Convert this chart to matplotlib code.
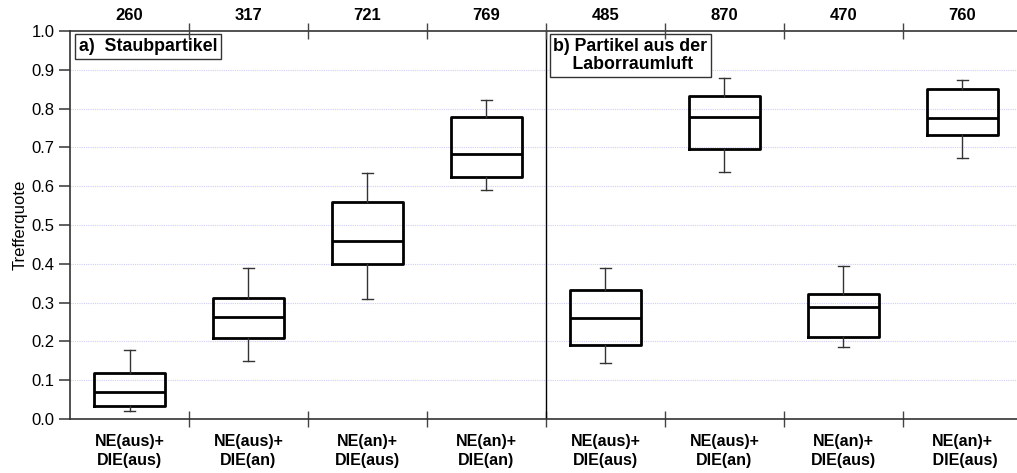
import matplotlib
matplotlib.use("Agg")
import matplotlib.pyplot as plt
import numpy as np

plt.rcParams['font.family'] = ['Liberation Sans', 'DejaVu Sans']

# Conditions (two panels with four conditions each)
conditions = ["NE(aus)+\nDIE(aus)", "NE(aus)+\nDIE(an)", "NE(an)+\nDIE(aus)", "NE(an)+\nDIE(an)",
              "NE(aus)+\nDIE(aus)", "NE(aus)+\nDIE(an)", "NE(an)+\nDIE(aus)", "NE(an)+\n DIE(aus)"]
counts = ["260", "317", "721", "769", "485", "870", "470", "760"]

# Box statistics of the hit rate
whisker_low = [0.020, 0.150, 0.308, 0.590, 0.144, 0.637, 0.186, 0.672]
quartile_1 = [0.034, 0.208, 0.400, 0.624, 0.191, 0.695, 0.212, 0.732]
medians = [0.069, 0.264, 0.459, 0.683, 0.261, 0.779, 0.288, 0.776]
quartile_3 = [0.118, 0.311, 0.559, 0.778, 0.333, 0.832, 0.322, 0.850]
whisker_high = [0.179, 0.389, 0.634, 0.822, 0.388, 0.880, 0.395, 0.875]

panel_titles = ["a)  Staubpartikel", "b) Partikel aus der\n    Laborraumluft"]

fig = plt.figure(figsize=(10.17, 4.73), dpi=100)
ax = fig.add_axes([70 / 1017, 54 / 473, 952 / 1017, 388 / 473])

stats = []
for i in range(len(medians)):
    stats.append(dict(med=medians[i], q1=quartile_1[i], q3=quartile_3[i],
                      whislo=whisker_low[i], whishi=whisker_high[i], fliers=[]))

positions = np.arange(len(medians)) + 0.5
ax.bxp(stats, positions=positions, widths=0.6, showfliers=False,
       capwidths=0.09,
       boxprops=dict(color='black', linewidth=2.0),
       medianprops=dict(color='black', linewidth=2.0),
       whiskerprops=dict(color='#333333', linewidth=1.0),
       capprops=dict(color='#333333', linewidth=1.0),
       manage_ticks=False)

ax.set_xlim(0, 8)
ax.set_ylim(0, 1.0)

# horizontal dotted grid
for y in np.arange(0.1, 1.0, 0.1):
    ax.axhline(y, color='#cfcff7', linestyle=(0, (1, 1)), linewidth=0.8, zorder=0)

# panel divider
ax.axvline(4, color='black', linewidth=1.0)

ax.set_yticks(np.round(np.arange(0, 1.01, 0.1), 1))
ax.set_yticklabels([f"{v:.1f}" for v in np.arange(0, 1.01, 0.1)], fontsize=12)
ax.tick_params(axis='y', direction='out', length=8, width=1.2, colors='#444444',
               labelcolor='black', pad=3)

ax.set_xticks(np.arange(1, 8))
ax.set_xticklabels([])
ax.set_xticks(positions, minor=True)
ax.set_xticklabels(conditions, minor=True, fontsize=11.5, fontweight='bold', linespacing=1.3)
ax.tick_params(axis='x', which='major', direction='inout', length=12, width=1.0, colors='#444444')
ax.tick_params(axis='x', which='minor', length=0, pad=11, labelcolor='black')

for side in ['left', 'bottom', 'top']:
    ax.spines[side].set_color('#333333')
    ax.spines[side].set_linewidth(1.2)
ax.spines['right'].set_visible(False)

ax.set_ylabel("Trefferquote", fontsize=12, labelpad=3)

# counts along the top axis
top = ax.twiny()
top.set_xlim(ax.get_xlim())
top.set_xticks(np.arange(1, 8))
top.set_xticklabels([])
top.set_xticks(positions, minor=True)
top.set_xticklabels(counts, minor=True, fontsize=12, fontweight='bold')
top.tick_params(axis='x', which='major', direction='inout', length=12, width=1.0, colors='#444444')
top.tick_params(axis='x', which='minor', length=0, pad=6, labelcolor='black')
for s in top.spines.values():
    s.set_visible(False)

box_style = dict(boxstyle='square,pad=0.2', facecolor='white', edgecolor='#333333', linewidth=1.0)
ax.text(0.075, 0.982, panel_titles[0], fontsize=12.8, fontweight='bold', va='top', ha='left',
        bbox=box_style, linespacing=1.1)
ax.text(4.06, 0.982, panel_titles[1], fontsize=12.8, fontweight='bold', va='top', ha='left',
        bbox=box_style, linespacing=1.1)

fig.savefig("out.png", dpi=100)
